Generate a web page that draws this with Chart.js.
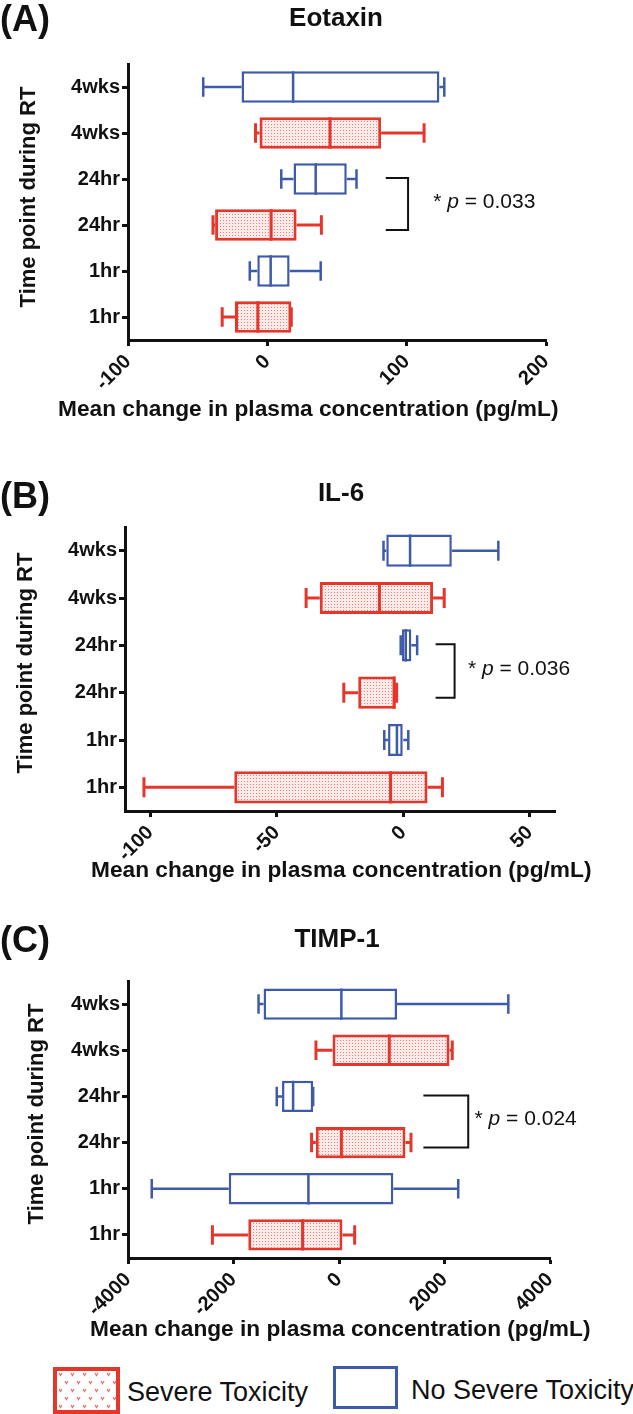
<!DOCTYPE html>
<html>
<head>
<meta charset="utf-8">
<script src="https://cdn.jsdelivr.net/npm/chart.js@4.4.1/dist/chart.umd.min.js"></script>
<style>
  html, body { margin: 0; padding: 0; background: #fff; }
  #page { position: relative; width: 633px; height: 1414px; overflow: hidden;
          font-family: "Liberation Sans", Arial, sans-serif; color: #111; }
  #page canvas { position: absolute; left: 0; }
  .t { position: absolute; white-space: nowrap; line-height: 1; }
  .letter { font-size: 36px; font-weight: bold; left: 0; transform: translateY(-50%); }
  .title { font-size: 26px; font-weight: bold; transform: translate(-50%, -50%); }
  .ytitle { font-size: 22px; font-weight: bold; transform: translate(-50%, -50%) rotate(-90deg); }
  .xtitle { font-size: 22.7px; font-weight: bold; transform: translateY(-50%); }
  .legbox { position: absolute; box-sizing: border-box; }
  .legtxt { font-size: 27px; transform: translateY(-50%); }
</style>
</head>
<body>
<div id="page">
  <canvas id="chartA" width="633" height="420" style="top:0px"></canvas>
  <canvas id="chartB" width="633" height="460" style="top:420px"></canvas>
  <canvas id="chartC" width="633" height="470" style="top:880px"></canvas>

  <div class="t letter" style="top:19px">(A)</div>
  <div class="t title" style="left:336px; top:17px">Eotaxin</div>
  <div class="t ytitle" style="left:28px; top:197px">Time point during RT</div>
  <div class="t xtitle" style="left:58px; top:408px">Mean change in plasma concentration (pg/mL)</div>

  <div class="t letter" style="top:496px">(B)</div>
  <div class="t title" style="left:341px; top:492px">IL-6</div>
  <div class="t ytitle" style="left:25px; top:663px">Time point during RT</div>
  <div class="t xtitle" style="left:91px; top:869px">Mean change in plasma concentration (pg/mL)</div>

  <div class="t letter" style="top:940px">(C)</div>
  <div class="t title" style="left:337px; top:938px">TIMP-1</div>
  <div class="t ytitle" style="left:36px; top:1114px">Time point during RT</div>
  <div class="t xtitle" style="left:90px; top:1328px">Mean change in plasma concentration (pg/mL)</div>

  <div id="legRed" class="legbox" style="left:53px; top:1367px; width:67px; height:47px; border:4px solid #e5362c"></div>
  <div class="t legtxt" style="left:127px; top:1392px">Severe Toxicity</div>
  <div class="legbox" style="left:333px; top:1366px; width:65px; height:43px; border:3.5px solid #3e5ba9"></div>
  <div class="t legtxt" style="left:411px; top:1390px">No Severe Toxicity</div>
</div>

<script>
// Categorias (de arriba a abajo) y grupo de cada caja
const timeLabels = ['4wks', '4wks', '24hr', '24hr', '1hr', '1hr'];
const isSevere = [false, true, false, true, false, true];

// Eotaxin (pg/mL)
const eotaxinMin = [-46, -8.5, 10, -39, -12.6, -32.4];
const eotaxinQ1  = [-18.5, -5.6, 18.8, -37.5, -7.2, -23.2];
const eotaxinMed = [18.5, 45, 34.7, 2.7, 2.4, -6.8];
const eotaxinQ3  = [123.5, 81.7, 57, 21, 16, 17.2];
const eotaxinMax = [127, 112.5, 64, 38.8, 38.3, 17.2];
const eotaxinTicks = [-100, 0, 100, 200];

// IL-6 (pg/mL)
const il6Min = [-7.8, -38.4, -1, -23.5, -7.5, -102.5];
const il6Q1  = [-6.7, -33, -0.5, -17.8, -6, -66.8];
const il6Med = [2.7, -9.4, 1, -3.6, -2.5, -5];
const il6Q3  = [19.2, 11.8, 3.2, -3, 0, 9.6];
const il6Max = [37.6, 16.2, 5.5, -2.6, 2, 15.5];
const il6Ticks = [-100, -50, 0, 50];

// TIMP-1 (pg/mL)
const timpMin = [-1525, -437, -1180, -520, -3550, -2400];
const timpQ1  = [-1430, -123, -1080, -440, -2090, -1720];
const timpMed = [45, 953, -870, 45, -580, -690];
const timpQ3  = [1100, 2095, -490, 1260, 1030, 65];
const timpMax = [3210, 2147, -490, 1365, 2260, 297];
const timpTicks = [-4000, -2000, 0, 2000, 4000];

// Comparaciones 24hr (posicion del corchete y del texto, en unidades del eje)
const eotaxinBracket = [85, 101];   const eotaxinP = ['0.033', 119];
const il6Bracket = [12.8, 20.3];    const il6P = ['0.036', 25.6];
const timpBracket = [1600, 2450];   const timpP = ['0.024', 2570];

const RED = '#e5362c';
const BLUE = '#3e5ba9';

Chart.defaults.font.family = '"Liberation Sans", Arial, sans-serif';
Chart.defaults.color = '#111';

// Relleno punteado de las cajas rojas
function dotPattern(ctx) {
    var c = document.createElement('canvas');
    c.width = 3; c.height = 3;
    var g = c.getContext('2d');
    g.fillStyle = '#fcebe9';
    g.fillRect(0, 0, 3, 3);
    g.fillStyle = '#ea8079';
    g.fillRect(1, 1, 1, 1);
    return ctx.createPattern(c, 'repeat');
}

// Bigotes, medianas, corchete y valor p
const boxPlot = {
    id: 'boxPlot',
    afterDatasetsDraw(chart, args, opts) {
        const ctx = chart.ctx;
        const xs = chart.scales.x, ys = chart.scales.y;
        const px = v => xs.getPixelForValue(v);
        chart.getDatasetMeta(0).data.forEach((bar, i) => {
            const cy = bar.y, h = bar.height, cap = h * 0.31;
            ctx.save();
            ctx.strokeStyle = isSevere[i] ? RED : BLUE;
            ctx.lineWidth = isSevere[i] ? 3 : 2.5;
            ctx.beginPath();
            ctx.moveTo(px(opts.min[i]), cy); ctx.lineTo(px(opts.q1[i]), cy);
            ctx.moveTo(px(opts.q3[i]), cy); ctx.lineTo(px(opts.max[i]), cy);
            ctx.moveTo(px(opts.min[i]), cy - cap); ctx.lineTo(px(opts.min[i]), cy + cap);
            ctx.moveTo(px(opts.max[i]), cy - cap); ctx.lineTo(px(opts.max[i]), cy + cap);
            ctx.moveTo(px(opts.med[i]), cy - h / 2); ctx.lineTo(px(opts.med[i]), cy + h / 2);
            ctx.stroke();
            ctx.restore();
        });

        const yTop = ys.getPixelForValue(2) - 1;
        const yBot = ys.getPixelForValue(3) + 5;
        ctx.save();
        ctx.strokeStyle = '#111';
        ctx.lineWidth = 2;
        ctx.beginPath();
        ctx.moveTo(px(opts.bracket[0]), yTop);
        ctx.lineTo(px(opts.bracket[1]), yTop);
        ctx.lineTo(px(opts.bracket[1]), yBot);
        ctx.lineTo(px(opts.bracket[0]), yBot);
        ctx.stroke();

        let tx = px(opts.p[1]);
        const ty = (ys.getPixelForValue(2) + ys.getPixelForValue(3)) / 2;
        ctx.fillStyle = '#111';
        ctx.textBaseline = 'middle';
        ctx.textAlign = 'left';
        const parts = [['* ', 'normal'], ['p', 'italic'], [' = ' + opts.p[0], 'normal']];
        parts.forEach(function (pt) {
            ctx.font = pt[1] + ' 21px "Liberation Sans", Arial, sans-serif';
            ctx.fillText(pt[0], tx, ty);
            tx += ctx.measureText(pt[0]).width;
        });
        ctx.restore();
    }
};

function makePanel(id, q1, q3, stats, xTicks, xMin, xMax, pad, xAxisHeight) {
    const ctx = document.getElementById(id).getContext('2d');
    const pattern = dotPattern(ctx);
    return new Chart(ctx, {
        type: 'bar',
        data: {
            labels: timeLabels,
            datasets: [{
                data: q1.map((v, i) => [v, q3[i]]),
                backgroundColor: isSevere.map(s => s ? pattern : '#ffffff'),
                borderColor: isSevere.map(s => s ? RED : BLUE),
                borderWidth: isSevere.map(s => s ? 3 : 2.5),
                borderSkipped: false,
                barPercentage: 0.68,
                categoryPercentage: 1
            }]
        },
        options: {
            indexAxis: 'y',
            responsive: false,
            animation: false,
            devicePixelRatio: 1,
            layout: { padding: pad },
            scales: {
                x: {
                    type: 'linear',
                    min: xMin,
                    max: xMax,
                    afterBuildTicks: axis => { axis.ticks = xTicks.map(v => ({ value: v })); },
                    afterFit: axis => { axis.height = xAxisHeight; },
                    ticks: {
                        autoSkip: false,
                        minRotation: 45,
                        maxRotation: 45,
                        padding: 4,
                        color: '#111',
                        font: { size: 20, weight: 'bold' },
                        callback: v => String(v)
                    },
                    grid: {
                        drawOnChartArea: false,
                        drawTicks: true,
                        tickLength: 6,
                        tickWidth: 3,
                        tickColor: '#111'
                    },
                    border: { color: '#111', width: 3 }
                },
                y: {
                    afterFit: axis => { axis.width = pad.yWidth; },
                    ticks: {
                        padding: 2,
                        color: '#111',
                        font: { size: 20, weight: 'bold' }
                    },
                    grid: {
                        offset: false,
                        drawOnChartArea: false,
                        drawTicks: true,
                        tickLength: 6,
                        tickWidth: 3,
                        tickColor: '#111'
                    },
                    border: { color: '#111', width: 3 }
                }
            },
            plugins: {
                legend: { display: false },
                tooltip: { enabled: false },
                boxPlot: stats
            }
        },
        plugins: [boxPlot]
    });
}

makePanel('chartA', eotaxinQ1, eotaxinQ3,
    { min: eotaxinMin, q1: eotaxinQ1, med: eotaxinMed, q3: eotaxinQ3, max: eotaxinMax,
      bracket: eotaxinBracket, p: eotaxinP },
    eotaxinTicks, -100, 200,
    { left: 0, right: 87, top: 64, bottom: 0, yWidth: 128 }, 80);

makePanel('chartB', il6Q1, il6Q3,
    { min: il6Min, q1: il6Q1, med: il6Med, q3: il6Q3, max: il6Max,
      bracket: il6Bracket, p: il6P },
    il6Ticks, -110, 60,
    { left: 0, right: 78, top: 107, bottom: 0, yWidth: 125 }, 69);

makePanel('chartC', timpQ1, timpQ3,
    { min: timpMin, q1: timpQ1, med: timpMed, q3: timpQ3, max: timpMax,
      bracket: timpBracket, p: timpP },
    timpTicks, -4000, 4000,
    { left: 0, right: 83, top: 101, bottom: 0, yWidth: 128 }, 92);

// Trama de la caja roja de la leyenda
(function () {
    var c = document.createElement('canvas');
    c.width = 12; c.height = 16;
    var g = c.getContext('2d');
    g.fillStyle = '#ffffff';
    g.fillRect(0, 0, 12, 16);
    g.strokeStyle = '#ee6a62';
    g.lineWidth = 1.2;
    [[2, 2], [8, 10]].forEach(function (p) {
        g.beginPath();
        g.moveTo(p[0], p[1]); g.lineTo(p[0] + 1.5, p[1] + 2.5); g.lineTo(p[0] + 3, p[1]);
        g.stroke();
    });
    document.getElementById('legRed').style.background = 'url(' + c.toDataURL() + ')';
})();
</script>
</body>
</html>
